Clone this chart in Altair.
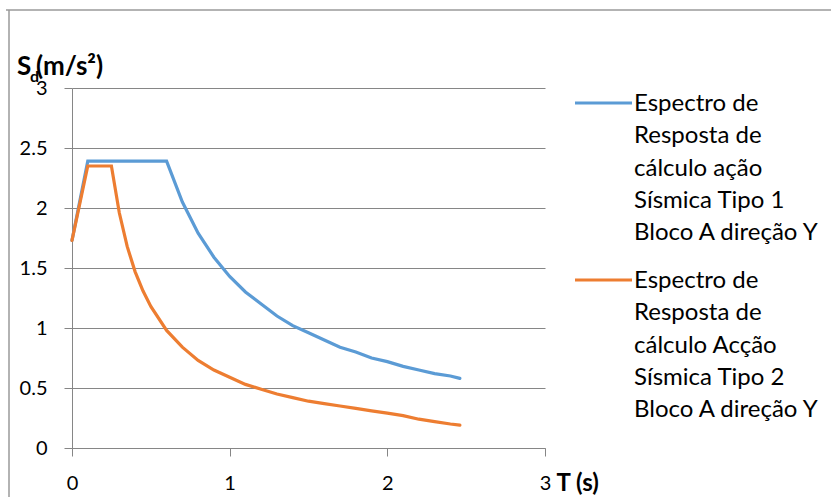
import altair as alt
import pandas as pd

# ---- data ----
series_names = [
    "Espectro de Resposta de cálculo ação Sísmica Tipo 1 Bloco A direção Y",
    "Espectro de Resposta de cálculo Acção Sísmica Tipo 2 Bloco A direção Y",
]
legend_lines = [
    "Espectro de\nResposta de\ncálculo ação\nSísmica Tipo 1\nBloco A direção Y",
    "Espectro de\nResposta de\ncálculo Acção\nSísmica Tipo 2\nBloco A direção Y",
]
colors = ["#5B9BD5", "#ED7D31"]

t1 = [0, 0.1, 0.2, 0.3, 0.4, 0.5, 0.6, 0.7, 0.8, 0.9, 1.0, 1.1, 1.2, 1.3, 1.4,
      1.5, 1.6, 1.7, 1.8, 1.9, 2.0, 2.1, 2.2, 2.3, 2.4, 2.46]
s1 = [1.73, 2.39, 2.39, 2.39, 2.39, 2.39, 2.39, 2.05, 1.79, 1.59, 1.43, 1.30,
      1.20, 1.10, 1.02, 0.96, 0.90, 0.84, 0.80, 0.75, 0.72, 0.68, 0.65, 0.62,
      0.60, 0.58]

t2 = [0, 0.1, 0.25, 0.3, 0.35, 0.4, 0.45, 0.5, 0.6, 0.7, 0.8, 0.9, 1.0, 1.1,
      1.2, 1.3, 1.4, 1.5, 1.6, 1.7, 1.8, 1.9, 2.0, 2.1, 2.2, 2.3, 2.4, 2.46]
s2 = [1.73, 2.35, 2.35, 1.96, 1.68, 1.47, 1.31, 1.18, 0.98, 0.84, 0.73, 0.65,
      0.59, 0.53, 0.49, 0.45, 0.42, 0.39, 0.37, 0.35, 0.33, 0.31, 0.29, 0.27,
      0.24, 0.22, 0.20, 0.19]

x_ticks = [0, 1, 2, 3]
y_ticks = [0, 0.5, 1, 1.5, 2, 2.5, 3]

df = pd.concat([
    pd.DataFrame({"T": t1, "Sd": s1, "series": series_names[0], "order": range(len(t1))}),
    pd.DataFrame({"T": t2, "Sd": s2, "series": series_names[1], "order": range(len(t2))}),
])

FONT = "Lato"
GREY = "#868686"
color_scale = alt.Scale(domain=series_names, range=colors)

lines = alt.Chart(df).mark_line(strokeWidth=3.2, strokeCap="round").encode(
    x=alt.X("T:Q", scale=alt.Scale(domain=[0, 3], nice=False),
            axis=alt.Axis(values=x_ticks, format="d", grid=False, title="T (s)",
                          titleX=484, titleY=35, titleAlign="left",
                          titleBaseline="middle", titleFontWeight="bold",
                          titleFontSize=24, titleFont=FONT,
                          labelFont=FONT, labelFontSize=20, labelColor="#000",
                          labelPadding=17, tickSize=8, tickColor=GREY,
                          domainColor=GREY, labelFlush=False)),
    y=alt.Y("Sd:Q", scale=alt.Scale(domain=[0, 3], nice=False),
            axis=alt.Axis(values=y_ticks, grid=True, gridColor=GREY, title=None,
                          labelFont=FONT, labelFontSize=20, labelColor="#000",
                          labelPadding=17, tickSize=8, tickColor=GREY,
                          domainColor=GREY, labelFlush=False,
                          labelExpr="datum.value == 0 ? '0' : format(datum.value, '~g')")),
    color=alt.Color("series:N", scale=color_scale, legend=None),
    order="order:Q",
)

one = alt.Data(values=[{}])

# y-axis title S_d(m/s²)
t_S = alt.Chart(one).mark_text(text="S", font=FONT, fontWeight="bold", fontSize=26,
                               align="left", baseline="alphabetic").encode(
    x=alt.value(-55), y=alt.value(-13))
t_d = alt.Chart(one).mark_text(text="d", font=FONT, fontWeight="bold", fontSize=16,
                               align="left", baseline="alphabetic").encode(
    x=alt.value(-42), y=alt.value(-6))
t_unit = alt.Chart(one).mark_text(text="(m/s²)", font=FONT, fontWeight="bold", fontSize=26,
                                  align="left", baseline="alphabetic").encode(
    x=alt.value(-36), y=alt.value(-13))

# outer frame (left and top edges visible)
frame_top = alt.Chart(one).mark_rule(color="#9a9a9a", strokeWidth=1.5).encode(
    x=alt.value(-66), x2=alt.value(760), y=alt.value(-78))
frame_left = alt.Chart(one).mark_rule(color="#9a9a9a", strokeWidth=1.5).encode(
    x=alt.value(-63), y=alt.value(-78), y2=alt.value(410))

# legend
leg_layers = []
for name, txt, ly in zip(series_names, legend_lines, [15, 192]):
    d = alt.Data(values=[{"series": name}])
    leg_layers.append(
        alt.Chart(d).mark_rule(strokeWidth=3.2).encode(
            x=alt.value(503), x2=alt.value(560), y=alt.value(ly),
            color=alt.Color("series:N", scale=color_scale, legend=None)))
    leg_layers.append(
        alt.Chart(one).mark_text(text=txt, lineBreak="\n", font=FONT, fontSize=24,
                                 lineHeight=32.3, align="left", baseline="middle",
                                 color="#000").encode(
            x=alt.value(562), y=alt.value(ly + 1)))

chart = alt.layer(lines, t_S, t_d, t_unit, frame_top, frame_left, *leg_layers).properties(
    width=473, height=360,
    autosize=alt.AutoSizeParams(type="none"),
    padding={"left": 72, "top": 88, "right": 286, "bottom": 49},
    background="white",
).configure_view(strokeWidth=0)

chart.save("out.html", embed_options={"renderer": "svg", "actions": False})
